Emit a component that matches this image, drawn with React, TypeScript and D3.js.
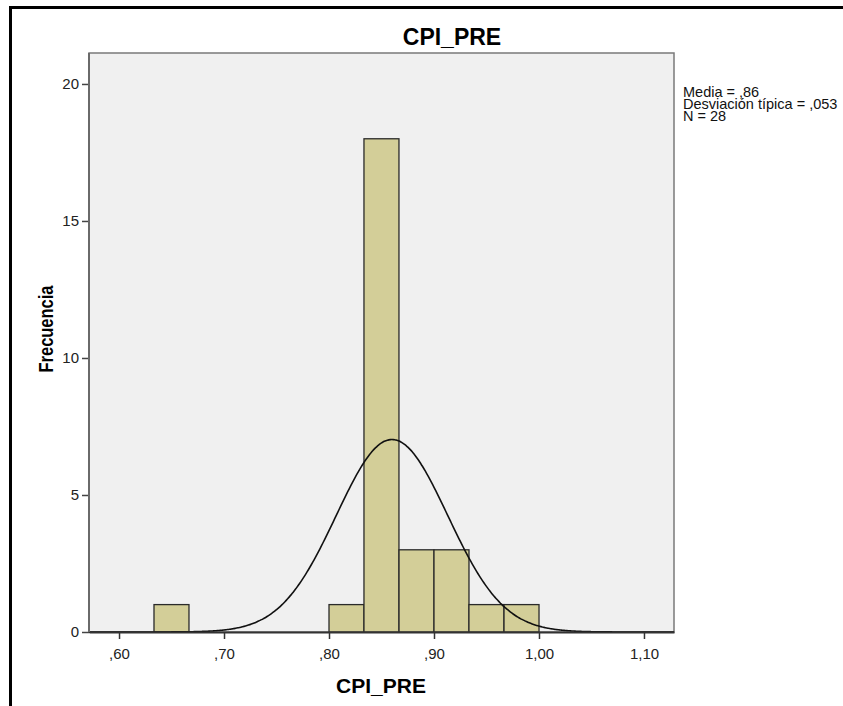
import React, { useEffect, useRef } from 'react';
import * as d3 from 'd3';

// histogram bins (lower edges) and counts
const binStarts = [0.6333, 0.6667, 0.7, 0.7333, 0.7667, 0.8, 0.8333, 0.8667, 0.9, 0.9333, 0.9667];
const binCounts = [1, 0, 0, 0, 0, 1, 18, 3, 3, 1, 1];
const binWidth = 0.03333;
const xTicks = [0.6, 0.7, 0.8, 0.9, 1.0, 1.1];
const yTicks = [0, 5, 10, 15, 20];
const stats = { mean: 0.86, sd: 0.053, n: 28 };
const legendLines = ['Media = ,86', 'Desviación típica = ,053', 'N = 28'];

const fmtX = (v: number) => {
  const s = v.toFixed(2).replace('.', ',');
  return s.startsWith('0') ? s.slice(1) : s;
};

const App = () => {
  const svgRef = useRef<SVGSVGElement>(null);

  useEffect(() => {
    const svg = d3.select(svgRef.current);
    svg.selectAll('*').remove();

    const left = 89, right = 674, top = 53, bottom = 632;
    const font = 'Arial, "Liberation Sans", sans-serif';

    const x = d3.scaleLinear().domain([0.5714, 1.1286]).range([left, right]);
    const y = d3.scaleLinear().domain([0, 21.13]).range([bottom, top]);

    // outer frame (runs off the right and bottom edges)
    svg.append('rect')
      .attr('x', 10.5).attr('y', 7.5)
      .attr('width', 900).attr('height', 800)
      .attr('fill', 'white')
      .attr('stroke', '#000').attr('stroke-width', 3);

    // plot background
    svg.append('rect')
      .attr('x', left).attr('y', top)
      .attr('width', right - left).attr('height', bottom - top)
      .attr('fill', '#f0f0f0')
      .attr('stroke', '#7a7a7a').attr('stroke-width', 1.5);

    const data = binStarts.map((s, i) => ({ s, c: binCounts[i] })).filter(d => d.c > 0);

    svg.append('g').selectAll('rect')
      .data(data)
      .enter().append('rect')
      .attr('x', d => x(d.s))
      .attr('y', d => y(d.c))
      .attr('width', d => x(d.s + binWidth) - x(d.s))
      .attr('height', d => y(0) - y(d.c))
      .attr('fill', '#d3ce98')
      .attr('stroke', '#2a2a2a')
      .attr('stroke-width', 1.3);

    // normal curve
    const scale = stats.n * binWidth / (stats.sd * Math.sqrt(2 * Math.PI));
    const pts = d3.range(0, 401).map(i => {
      const v = 0.5714 + (1.1286 - 0.5714) * i / 400;
      const z = (v - stats.mean) / stats.sd;
      return [v, scale * Math.exp(-0.5 * z * z)] as [number, number];
    });
    svg.append('path')
      .datum(pts)
      .attr('d', d3.line<[number, number]>().x(d => x(d[0])).y(d => y(d[1])).curve(d3.curveBasis))
      .attr('fill', 'none')
      .attr('stroke', '#111')
      .attr('stroke-width', 1.6);

    // axes
    const xAxis = svg.append('g')
      .attr('transform', `translate(0,${bottom})`)
      .call(d3.axisBottom(x).tickValues(xTicks).tickFormat(d => fmtX(+d)).tickSizeInner(7).tickSizeOuter(0).tickPadding(9));
    xAxis.select('.domain').attr('stroke', '#333').attr('stroke-width', 2);
    xAxis.selectAll('line').attr('stroke', '#333').attr('stroke-width', 1.5);
    xAxis.selectAll('text').attr('font-family', font).attr('font-size', 15).attr('fill', '#222');

    const yAxis = svg.append('g')
      .attr('transform', `translate(${left},0)`)
      .call(d3.axisLeft(y).tickValues(yTicks).tickSizeInner(7).tickSizeOuter(0).tickPadding(3));
    yAxis.select('.domain').remove();
    yAxis.selectAll('line').attr('stroke', '#444').attr('stroke-width', 1.5);
    yAxis.selectAll('text').attr('font-family', font).attr('font-size', 15).attr('fill', '#222');

    // redraw left edge of plot
    svg.append('line')
      .attr('x1', left).attr('x2', left).attr('y1', top).attr('y2', bottom)
      .attr('stroke', '#6a6a6a').attr('stroke-width', 2);

    // titles
    svg.append('text')
      .attr('x', 452).attr('y', 45)
      .attr('text-anchor', 'middle')
      .attr('font-family', font).attr('font-size', 23).attr('font-weight', 'bold')
      .text('CPI_PRE');

    svg.append('text')
      .attr('x', 381).attr('y', 693)
      .attr('text-anchor', 'middle')
      .attr('font-family', font).attr('font-size', 21).attr('font-weight', 'bold')
      .text('CPI_PRE');

    svg.append('text')
      .attr('transform', `translate(53,329) scale(1.25,1) rotate(-90)`)
      .attr('text-anchor', 'middle')
      .attr('font-family', font).attr('font-size', 16.5).attr('font-weight', 'bold')
      .text('Frecuencia');

    // stats legend
    svg.append('g').selectAll('text')
      .data(legendLines)
      .enter().append('text')
      .attr('x', 683)
      .attr('y', (d, i) => 97 + i * 12)
      .attr('font-family', font).attr('font-size', 14.5).attr('fill', '#111')
      .text(d => d);
  }, []);

  return (
    <svg
      ref={svgRef}
      width={843}
      height={706}
      style={{ position: 'absolute', left: 0, top: 0, display: 'block', background: 'white' }}
    />
  );
};

export default App;
